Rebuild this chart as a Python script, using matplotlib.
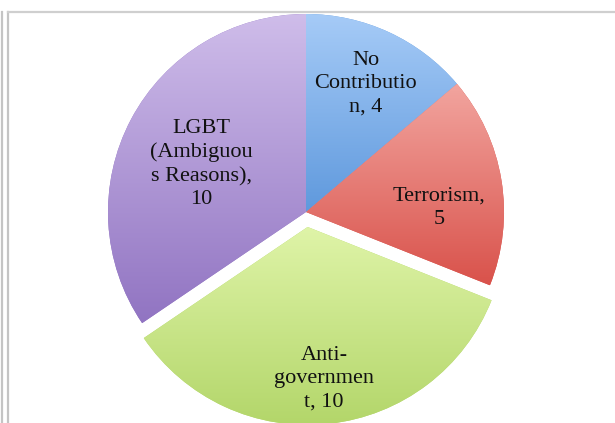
import matplotlib.pyplot as plt
import numpy as np
from matplotlib.colors import LinearSegmentedColormap
from matplotlib.lines import Line2D

# slice data, clockwise from 12 o'clock
categories = ["No Contribution", "Terrorism", "Anti-government", "LGBT (Ambiguous Reasons)"]
values = [4, 5, 10, 10]
# labels wrapped the way the original chart shows them
label_text = [
    "No\nContributio\nn, 4",
    "Terrorism,\n5",
    "Anti-\ngovernmen\nt, 10",
    "LGBT\n(Ambiguou\ns Reasons),\n10",
]
explode = [0, 0, 0.076, 0]
# (light top, dark bottom) per slice
gradients = [
    ("#a6cbf7", "#5f99dd"),
    ("#f2a59f", "#d9524b"),
    ("#dff4a8", "#b3d66a"),
    ("#cfbdea", "#9174c2"),
]

W, H = 615, 423
R = 198            # pie radius in pixels
CX, CY = 306, 212  # pie centre in pixels from top-left

fig = plt.figure(figsize=(W / 100, H / 100), dpi=100)
ax = fig.add_axes([0, 0, 1, 1])
ax.axis("off")

wedges, texts = ax.pie(
    values,
    labels=label_text,
    explode=explode,
    startangle=90,
    counterclock=False,
    colors=[g[1] for g in gradients],
    wedgeprops={"linewidth": 0},
    textprops={"family": "Liberation Serif", "fontsize": 16, "color": "#111111"},
)

# vertical gradient inside each wedge
grad = np.linspace(0, 1, 256).reshape(-1, 1)
for w, (c_top, c_bot) in zip(wedges, gradients):
    cmap = LinearSegmentedColormap.from_list("g", [c_top, c_bot])
    bb = w.get_path().get_extents()
    im = ax.imshow(grad, cmap=cmap, aspect="auto", origin="upper",
                   extent=[bb.x0, bb.x1, bb.y0, bb.y1], zorder=w.get_zorder() + 0.1)
    im.set_clip_path(w)

# label distance per slice, roughly where Excel put them
label_r = [0.715, 0.68, 0.77, 0.60]
# extra vertical nudge (data units) where Excel drifts off the mid-angle
label_dy = [0.0, -0.09, 0.0, -0.04]
for t, w, r, dy in zip(texts, wedges, label_r, label_dy):
    ang = np.deg2rad((w.theta1 + w.theta2) / 2)
    cx, cy = w.center
    t.set_position((cx + r * np.cos(ang), cy + r * np.sin(ang) + dy))
    t.set_ha("center")
    t.set_va("center")
    t.set_multialignment("center")
    t.set_linespacing(1.3)
    t.set_zorder(5)

ax.set_xlim(-CX / R, (W - CX) / R)
ax.set_ylim(-(H - CY) / R, CY / R)
ax.set_aspect("auto")

# chart frame remnants along the top and left
fig.add_artist(Line2D([1.5 / W, 1.5 / W], [0, 1 - 12 / H], color="#c4c4c4", lw=1.6))
fig.add_artist(Line2D([7.5 / W, 7.5 / W], [0, 1 - 12 / H], color="#c4c4c4", lw=1.6))
fig.add_artist(Line2D([7.5 / W, 1], [1 - 12.5 / H, 1 - 12.5 / H], color="#cfcfcf", lw=1.6))

fig.savefig("out.png", dpi=100)
